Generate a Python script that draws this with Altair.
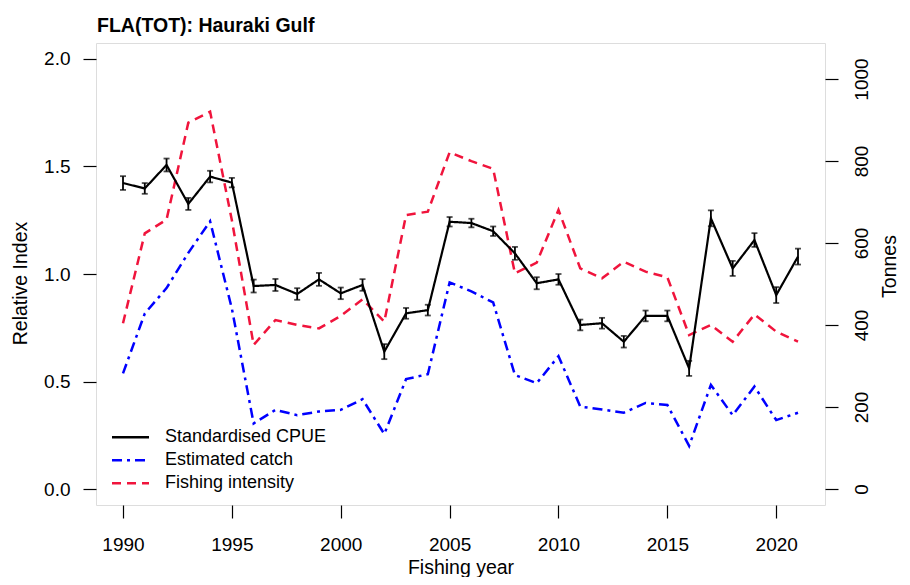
import altair as alt
import pandas as pd

years = list(range(1990, 2022))
cpue = [1.423, 1.398, 1.507, 1.326, 1.453, 1.425, 0.944, 0.949, 0.907, 0.975,
        0.910, 0.949, 0.639, 0.817, 0.832, 1.243, 1.237, 1.199, 1.096, 0.957,
        0.975, 0.763, 0.771, 0.685, 0.805, 0.805, 0.561, 1.259, 1.026, 1.158,
        0.902, 1.081]
cpue_err = [0.032, 0.025, 0.030, 0.028, 0.027, 0.022, 0.030, 0.028, 0.027, 0.030,
            0.027, 0.027, 0.035, 0.025, 0.025, 0.022, 0.020, 0.022, 0.030, 0.028,
            0.025, 0.025, 0.025, 0.027, 0.025, 0.025, 0.035, 0.037, 0.035, 0.032,
            0.037, 0.037]
catch_t = [282, 428, 490, 576, 653, 440, 160, 193, 180, 189,
           193, 219, 134, 268, 280, 504, 482, 455, 278, 258,
           324, 201, 194, 186, 210, 205, 105, 254, 180, 250,
           168, 186]
intensity = [0.771, 1.189, 1.253, 1.704, 1.755, 1.25, 0.670, 0.786, 0.763, 0.747,
             0.805, 0.882, 0.778, 1.274, 1.290, 1.566, 1.525, 1.489, 1.003, 1.053,
             1.298, 1.026, 0.980, 1.057, 1.011, 0.985, 0.716, 0.763, 0.685, 0.812,
             0.732, 0.685]

names = ["Standardised CPUE", "Estimated catch", "Fishing intensity"]
colors = ["#000000", "#0000ff", "#f0143c"]
dashes = [[1, 0], [10, 5, 3, 5], [9, 6]]

x_ticks = [1990, 1995, 2000, 2005, 2010, 2015, 2020]
left_ticks = [0, 0.5, 1.0, 1.5, 2.0]
right_ticks = [0, 200, 400, 600, 800, 1000]

FONT = "Liberation Sans"

df_cpue = pd.DataFrame({
    "year": years, "value": cpue,
    "lo": [c - e for c, e in zip(cpue, cpue_err)],
    "hi": [c + e for c, e in zip(cpue, cpue_err)],
    "series": names[0],
})
df_catch = pd.DataFrame({"year": years, "value": catch_t, "series": names[1]})
df_int = pd.DataFrame({"year": years, "value": intensity, "series": names[2]})

x_scale = alt.Scale(domain=[1988.76, 2022.24], nice=False, zero=False)
x_axis = alt.Axis(values=x_ticks, format="d", title="Fishing year", grid=False,
                  domain=False, tickSize=13, tickColor="black", tickWidth=1.2,
                  labelFontSize=19, labelColor="black", labelPadding=17,
                  titleFontSize=19.5, titleFontWeight="normal", titleColor="black",
                  titleBaseline="alphabetic", titleY=68)
yl_scale = alt.Scale(domain=[-0.0744, 2.0744], nice=False, zero=False)
yl_axis = alt.Axis(orient="left", values=left_ticks, format=".1f", title="Relative Index",
                   grid=False, domain=False, tickSize=13, tickColor="black", tickWidth=1.2,
                   labelFontSize=19, labelColor="black", labelPadding=13, labelAngle=0,
                   titleFontSize=19.5, titleFontWeight="normal", titleColor="black",
                   titleAngle=270, titleX=-76, titleY=240, titleAlign="center",
                   titleBaseline="middle")
yr_scale = alt.Scale(domain=[-39, 1087.8], nice=False, zero=False)
yr_axis = alt.Axis(orient="right", values=right_ticks, format="d", title="Tonnes",
                   grid=False, domain=False, tickSize=13, tickColor="black", tickWidth=1.2,
                   labelFontSize=19, labelColor="black", labelPadding=14, labelAngle=270,
                   labelAlign="center", labelBaseline="top",
                   titleFontSize=19.5, titleFontWeight="normal", titleColor="black",
                   titleAngle=270, titleX=64, titleY=223, titleAlign="center",
                   titleBaseline="middle")

leg = alt.Legend(orient="none", legendX=14.5, legendY=383, title=None, symbolType="stroke",
                 symbolSize=1369, symbolStrokeWidth=2.5, labelFontSize=18,
                 labelColor="black", labelOffset=14.5, rowPadding=0, padding=0,
                 clipHeight=22.5, labelFont=FONT, labelLimit=400)

X = alt.X("year:Q", scale=x_scale, axis=x_axis)
color = alt.Color("series:N", scale=alt.Scale(domain=names, range=colors), legend=leg)
dash = alt.StrokeDash("series:N", scale=alt.Scale(domain=names, range=dashes), legend=leg)


def ly(field):
    return alt.Y(f"{field}:Q", scale=yl_scale, axis=yl_axis)


int_line = alt.Chart(df_int).mark_line(strokeWidth=2.5).encode(
    x=X, y=ly("value"), color=color, strokeDash=dash)
cpue_line = alt.Chart(df_cpue).mark_line(strokeWidth=2.2).encode(
    x=X, y=ly("value"), color=color, strokeDash=dash)
err = alt.Chart(df_cpue).mark_rule(color="black", strokeWidth=1.8).encode(
    x=X, y=ly("lo"), y2="hi:Q")
cap_lo = alt.Chart(df_cpue).mark_tick(color="black", size=6, thickness=1.8,
                                      orient="horizontal").encode(x=X, y=ly("lo"))
cap_hi = alt.Chart(df_cpue).mark_tick(color="black", size=6, thickness=1.8,
                                      orient="horizontal").encode(x=X, y=ly("hi"))

left = alt.layer(int_line, cpue_line, err, cap_lo, cap_hi)
right = alt.Chart(df_catch).mark_line(strokeWidth=2.5).encode(
    x=X, y=alt.Y("value:Q", scale=yr_scale, axis=yr_axis), color=color, strokeDash=dash)

chart = alt.layer(left, right).resolve_scale(y="independent").properties(
    width=729, height=462,
    title=alt.TitleParams("FLA(TOT): Hauraki Gulf", anchor="start", frame="group",
                          fontSize=19.5, fontWeight="bold", font=FONT, color="black",
                          offset=12, baseline="alphabetic", dy=20, dx=1),
    padding={"left": 88, "top": 35, "right": 75, "bottom": 72},
    autosize=alt.AutoSizeParams(type="none"),
).configure_view(stroke="#222222", strokeWidth=1.5).configure(font=FONT)

chart.save("out.html", embed_options={"renderer": "svg", "actions": False})
